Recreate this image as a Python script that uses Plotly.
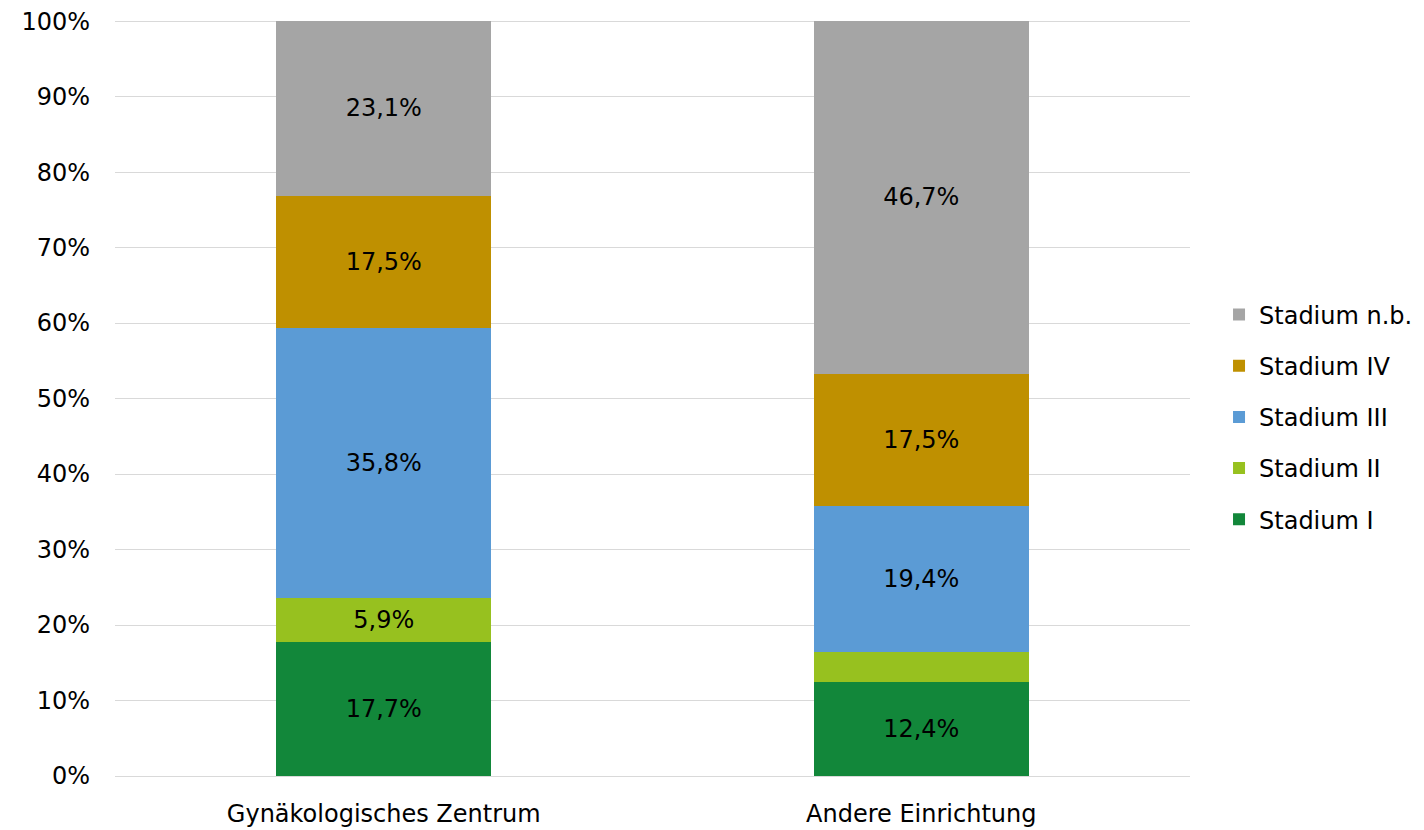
import plotly.graph_objects as go

# categories and series (percent)
categories = ['Gynäkologisches Zentrum', 'Andere Einrichtung']
stadien = ['Stadium I', 'Stadium II', 'Stadium III', 'Stadium IV', 'Stadium n.b.']
stadium_1 = [17.7, 12.4]
stadium_2 = [5.9, 4.0]
stadium_3 = [35.8, 19.4]
stadium_4 = [17.5, 17.5]
stadium_nb = [23.1, 46.7]
# labels shown on the bars (Stadium II of "Andere" carries no label)
show_label = [[True, True], [True, False], [True, True], [True, True], [True, True]]

colors = ['#12873A', '#97C11F', '#5B9BD5', '#BF9000', '#A5A5A5']
series = [stadium_1, stadium_2, stadium_3, stadium_4, stadium_nb]

font = 'DejaVu Sans, sans-serif'

fig = go.Figure()
for i, (name, vals, col, shows) in enumerate(zip(stadien, series, colors, show_label)):
    labels = [f'{v:.1f}%'.replace('.', ',') if s else '' for v, s in zip(vals, shows)]
    fig.add_trace(go.Bar(
        name=name,
        x=categories,
        y=vals,
        marker=dict(color=col, line=dict(width=0)),
        text=labels,
        textposition='inside',
        insidetextanchor='middle',
        textangle=0,
        constraintext='none',
        textfont=dict(color='black', size=24, family=font),
        legendgroup=name,
        legendrank=len(stadien) - i,
        hoverinfo='skip',
    ))

fig.update_layout(
    barmode='stack',
    bargap=0.6,
    width=1424,
    height=830,
    # page body adds 8px, margins compensate
    margin=dict(l=107, r=242, t=12, b=62, autoexpand=False),
    plot_bgcolor='white',
    paper_bgcolor='white',
    font=dict(family=font, size=24, color='black'),
    legend=dict(
        x=1.027, y=0.475, xanchor='left', yanchor='middle',
        traceorder='grouped',
        tracegroupgap=17,
        font=dict(size=24),
        itemwidth=30,
    ),
    showlegend=True,
)
fig.update_yaxes(
    range=[0, 100.15], dtick=10, ticksuffix='%',
    showgrid=True, gridcolor='#D9D9D9', gridwidth=1.3,
    zeroline=False, showline=False, ticks='',
    tickfont=dict(size=24), automargin=False,
    ticklabeloverflow='allow', ticklabelstandoff=24,
)
fig.update_xaxes(
    showline=True, linecolor='#D9D9D9', linewidth=1.3,
    tickfont=dict(size=24), ticks='', automargin=False,
    ticklabelstandoff=16, ticklabeloverflow='allow',
)

fig.write_html('out.html')
